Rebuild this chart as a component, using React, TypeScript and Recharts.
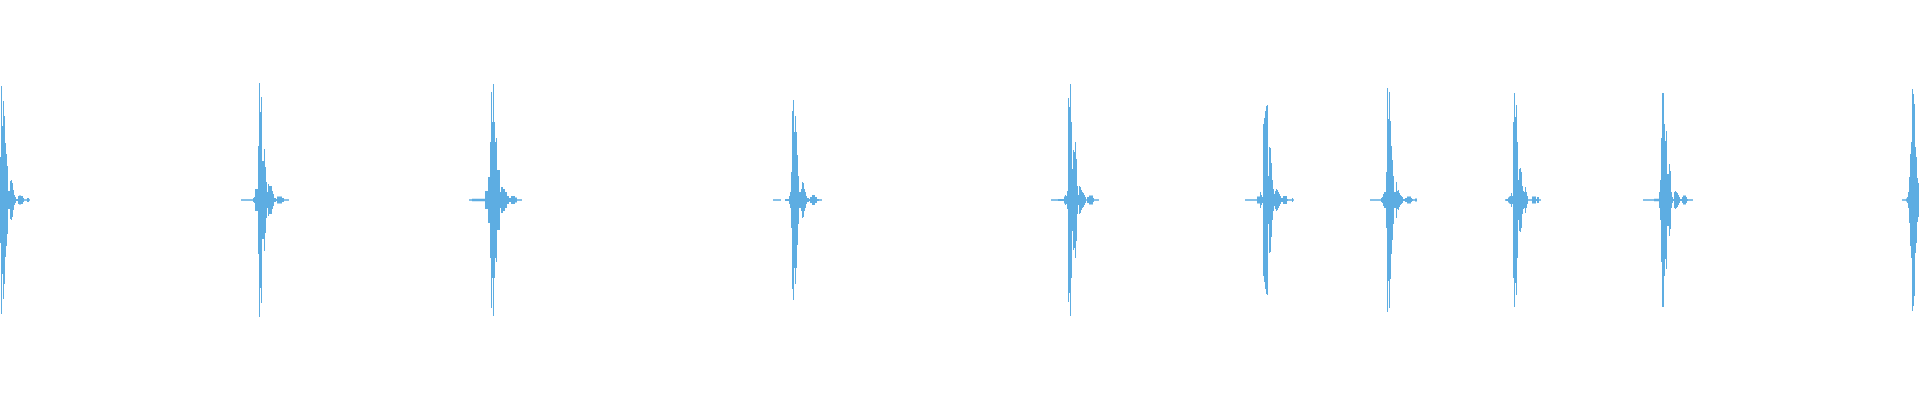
import { AreaChart, Area, XAxis, YAxis } from 'recharts';

// onset of each click (sample column) and its envelope, one amplitude per column
const clipOnsets = [0, 241, 469, 773, 1051, 1245, 1370, 1505, 1643, 1902];

const clip1 = [43, 114, 74, 99, 84, 57, 46, 34, 9, 9, 19, 20, 17, 10, 5, 3, 1, 1, 4, 4.5, 4.5, 4, 4, 2, 0.7, 0.7, 0.7, 2, 2, 0.7, 0.7];
const clip2 = [
  0.7, 0.7, 0.7, 0.7, 0.7, 0.7, 0.7, 0.7, 0.7, 0.7, 0.7, 0.7, 2, 3, 11, 11, 11, 54, 117, 88, 103, 39, 39, 51, 33, 18, 8, 16, 14, 14,
  14, 9, 6, 2, 2, 1, 3.5, 3.5, 3.5, 3.5, 3.5, 2, 2, 0.7, 0.7, 0.7, 0.7, 0.7, 0.7,
];
const clip3 = [
  0.7, 0.7, 0.7, 1.2, 1.2, 1.2, 1.2, 1.2, 1.2, 1.2, 1.2, 1.2, 1.2, 1.2, 1.2, 1.2, 9, 9, 9, 23, 23, 58, 108, 78, 116, 78, 58, 62, 30,
  30, 30, 8, 13, 13, 11, 11, 8, 8, 4, 4, 2, 2, 4, 4, 4, 4, 2.5, 2.5, 0.7, 0.7, 0.7, 0.7, 0.7, 0.7,
];
const clip4 = [
  0.7, 0.7, 0.7, 0.7, 0.7, 0.7, 0.7, 0.7, 0.7, null, null, null, 1, 1, 1, 1, 4, 8, 28, 89, 100, 68, 84, 68, 45, 24, 8, 8, 11, 18, 17,
  11, 8, 4, 2, 2, 1, 3, 3, 5, 5, 5, 3, 3, 1, 1, 0.7, 0.7, 0.7, 0.7,
];
const clip5 = [
  0.7, 0.7, 0.7, 0.7, 0.7, 0.7, 0.7, 1, 1, 1, 1, 1, 1, 3.5, 5, 4, 9, 102, 93, 116, 78, 31, 50, 48, 58, 41, 14, 5, 14, 13, 10, 8, 7, 5,
  3, 0.7, 3, 3, 4.5, 4.5, 4.5, 4.5, 2, 0.7, 0.7, 0.7, 0.7, 0.7, 0.7,
];
const clip6 = [
  0.7, 0.7, 0.7, 0.7, 0.7, 0.7, 0.7, 0.7, 0.7, 0.7, 0.7, 0.7, 3.5, 3.5, 3.5, 8, 5, 3, 76, 82, 89, 94, 95, 24, 53, 52, 37, 20, 11, 6,
  9, 11, 10, 8, 6, 4, 2, 2, 4, 4, 4, 4, 1, 0.7, 0.7, 0.7, 0.7, 2, 0.7, 0.7,
];
const clip7 = [
  0.7, 0.7, 0.7, 0.7, 0.7, 0.7, 0.7, 0.7, 0.7, 0.7, 0.7, 2, 3, 6, 8, 8, 28, 112, 81, 108, 79, 54, 40, 24, 8, 8, 18, 9, 10, 7, 5, 4,
  3, 1, 1, 2, 2, 3.5, 3.5, 3.5, 3.5, 2, 1, 0.7, 0.7, 1.5, 1.5, 0.7,
];
const clip8 = [
  0.7, 1, 1, 2.5, 3.5, 4, 7, 4, 78, 107, 83, 95, 58, 20, 31, 32, 28, 14, 9, 8, 13, 8, 4, 0.7, 0.7, 0.7, 0.7, 3.5, 3.5, 3.5, 3.5, 1,
  3, 3, 0.7, 0.7, 0.7,
];
const clip9 = [
  0.7, 0.7, 0.7, 0.7, 0.7, 0.7, 0.7, 0.7, 0.7, 0.7, 0.7, 1.2, 1.2, 1.2, 1.2, 1.2, 8, 20, 62, 107, 107, 76, 59, 69, 26, 26, 36, 29,
  8, 3, 1, 8, 9, 8, 7, 5, 3, 1, 1, 3, 4.5, 4.5, 4.5, 3, 1, 0.7, 0.7, 0.7, 0.7, 0.7, 0.7,
];
const clip10 = [0.7, 0.7, 0.7, 0.7, 1.5, 3, 8, 23, 46, 58, 111, 106, 96, 53, 43, 22, 17, 21];

const clips: (number | null)[][] = [clip1, clip2, clip3, clip4, clip5, clip6, clip7, clip8, clip9, clip10];

type Row = { t: number; amp: [number, number] | null };

const rows: Row[] = [];
clips.forEach((amps, k) => {
  amps.forEach((a, i) => {
    rows.push({ t: clipOnsets[k] + i, amp: a == null ? null : [-a, a] });
  });
  rows.push({ t: clipOnsets[k] + amps.length, amp: null });
});

export default function App() {
  return (
    <div style={{ position: 'absolute', left: 0, top: 0, width: 1920, height: 400, background: '#fff' }}>
      <AreaChart width={1920} height={400} data={rows} margin={{ top: 0, right: 0, bottom: 0, left: 0 }}>
        <XAxis dataKey="t" type="number" domain={[0, 1920]} hide />
        <YAxis type="number" domain={[-200, 200]} hide />
        <Area
          dataKey="amp"
          type="stepAfter"
          stroke="none"
          fill="#5dade2"
          fillOpacity={1}
          connectNulls={false}
          dot={false}
          activeDot={false}
          isAnimationActive={false}
        />
      </AreaChart>
    </div>
  );
}
